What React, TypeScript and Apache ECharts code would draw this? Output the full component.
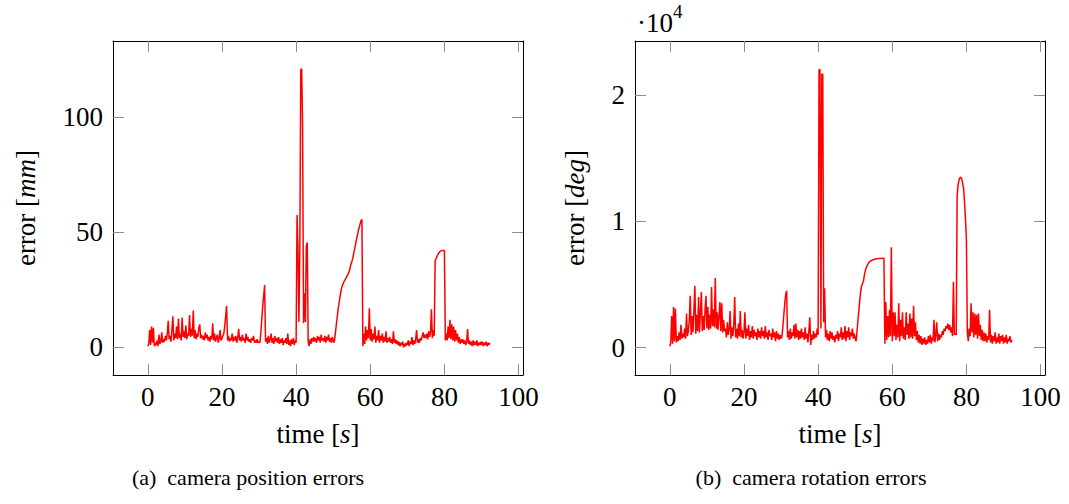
import React, { useEffect, useRef } from "react";
import * as echarts from "echarts";

// Sampling period of the recorded error signals (seconds)
const SAMPLE_PERIOD = 0.25;

const timeTicks = [0, 20, 40, 60, 80, 100];
const positionTicks = [0, 50, 100];
const rotationTicks = [0, 10000, 20000];

// camera position error [mm], one value every SAMPLE_PERIOD seconds from t = 0
const positionErrorMm = [
  // 0 - 5 s
  0.5, 1.5, 7.5, 1, 9, 2, 8.5, 0.5, 2, 1, 3, 0.5, 5.5, 1.5, 2.5, 6.5, 2, 3.5, 2.5, 5,
  // 5 - 10 s
  3, 6, 11.5, 3.5, 5, 2.5, 8, 13.5, 3, 6, 4, 9, 3.5, 12.5, 4, 6, 3, 13, 4.5, 7,
  // 10 - 15 s
  4, 9.5, 3.5, 6, 5, 14, 4.5, 8, 5, 16, 4, 7.5, 3.5, 6, 4.5, 8.5, 10, 4, 5.5, 3.5,
  // 15 - 20 s
  5, 3, 6.5, 4, 5.5, 3, 4.5, 2.5, 5, 3.5, 10.5, 3, 6, 2.5, 4, 5.5, 2, 4, 7.5, 3,
  // 20 - 25 s
  4, 5, 6, 9.5, 13.5, 18, 3, 5, 2.5, 4, 3, 6, 2.5, 4.5, 3, 5, 2, 4, 8, 3,
  // 25 - 30 s
  4.5, 2.5, 5.5, 3, 4, 2, 6, 3, 4.5, 2.5, 3.5, 2, 4, 3, 5, 2, 3, 2, 3.5, 2,
  // 30 - 35 s
  2.5, 2, 7, 12.5, 18, 22.5, 27, 2.5, 4, 1.5, 5, 2, 3.5, 6, 2, 4, 1.5, 5, 2.5, 4,
  // 35 - 40 s
  2, 4.5, 1.5, 3.5, 2, 4, 1, 3, 2, 4, 1.5, 6, 1, 3, 0.5, 3.5, 1.5, 4, 1, 3,
  // 40 - 45 s
  2, 57.5, 42.5, 11, 43, 120.5, 121, 94.5, 10.5, 23.5, 11, 44, 45.5, 2.5, 0.5, 3.5, 1.5, 4, 2.5, 4.5,
  // 45 - 50 s
  2.5, 4, 2, 5, 3, 4.5, 2, 5.5, 3, 4, 2.5, 5, 2, 4.5, 3, 5.5, 2.5, 4, 2, 4.5,
  // 50 - 55 s
  3, 2, 5, 8.5, 12, 15.5, 18.5, 21, 23.5, 25.5, 27, 28, 28.8, 29.5, 30.2, 31, 31.8, 32.8, 34, 36,
  // 55 - 60 s
  37, 38.5, 40.5, 42.5, 44.5, 46.5, 48.5, 50.5, 52, 53.5, 55, 55.5, 0.5, 6, 1.5, 9, 3, 7.5, 4, 17,
  // 60 - 65 s
  3, 8, 2.5, 6, 3.5, 9, 2, 5, 3, 7.5, 2, 5, 3, 6, 2, 4.5, 2.5, 7, 2, 4,
  // 65 - 70 s
  2.5, 4.5, 2, 3.5, 1.5, 7, 2, 3.5, 1.5, 3, 1, 2.5, 0.5, 2, 1, 2.5, 0, 1.5, 0.5, 2,
  // 70 - 75 s
  1, 3, 0.5, 2.5, 1.5, 4.5, 1, 3, 1.5, 3.5, 7.5, 2, 3.5, 2, 4, 3, 5, 6.5, 4, 5.5,
  // 75 - 80 s
  4, 6, 3.5, 7, 4.5, 6.5, 16.5, 4, 7.5, 5, 37.5, 38.5, 39.5, 40.3, 41, 41.5, 41.8, 42, 42, 42,
  // 80 - 85 s
  42, 3, 6, 3, 9, 4, 12, 3.5, 10, 3, 9, 2.5, 7.5, 3, 6, 2, 4.5, 1.5, 3.5, 2,
  // 85 - 90 s
  3.5, 1.5, 3, 1, 2.5, 8, 1.5, 3, 1, 2.5, 0.5, 3, 1, 2.5, 1, 3, 0.5, 2, 1, 2.5,
  // 90 - 92.25 s
  1, 2.5, 0.5, 2, 1, 2.5, 0.5, 2, 1, 2,
];

// camera rotation error [deg], one value every SAMPLE_PERIOD seconds from t = 0
const rotationErrorDeg = [
  // 0 - 5 s
  100, 400, 2500, 300, 3200, 500, 3100, 400, 900, 500, 1200, 600, 1800, 700, 1100, 800, 1500, 700, 2700, 900,
  // 5 - 10 s
  1300, 2200, 4100, 1000, 2500, 1200, 3000, 4900, 1100, 2600, 1300, 4000, 1200, 2800, 4400, 1300, 2500, 1400, 3000, 4100,
  // 10 - 15 s
  1500, 3200, 1400, 2600, 1500, 4800, 1700, 3000, 1600, 5500, 1500, 2800, 1400, 2500, 3600, 1300, 3500, 1200, 2200, 1300,
  // 15 - 20 s
  1500, 800, 2000, 1000, 1400, 2900, 700, 1600, 900, 1800, 4000, 800, 1500, 700, 1900, 900, 2900, 800, 1400, 700,
  // 20 - 25 s
  1200, 2800, 700, 1500, 900, 1800, 600, 1300, 800, 1700, 700, 1400, 900, 1200, 600, 1500, 800, 1300, 700, 1600,
  // 25 - 30 s
  900, 1300, 700, 1700, 800, 1200, 600, 1400, 900, 1100, 600, 1500, 800, 1200, 500, 1300, 700, 1100, 600, 1000,
  // 30 - 35 s
  700, 900, 1700, 2600, 3500, 4200, 4500, 800, 1300, 600, 1500, 700, 1200, 900, 1800, 700, 1900, 800, 1400, 600,
  // 35 - 40 s
  1300, 700, 1500, 800, 1200, 600, 1600, 700, 1100, 400, 1300, 2400, 200, 1000, 600, 1300, 700, 1100, 800, 1500,
  // 40 - 45 s
  1000, 22000, 22050, 1500, 21700, 21650, 2000, 4700, 800, 1400, 600, 1100, 500, 1300, 700, 1200, 600, 900, 400, 1000,
  // 45 - 50 s
  700, 1300, 500, 1100, 800, 1600, 600, 1200, 700, 1700, 500, 1300, 800, 1600, 600, 1200, 900, 1500, 700, 1100,
  // 50 - 55 s
  700, 500, 1300, 2200, 3000, 3800, 4500, 4900, 5100, 5300, 5800, 6100, 6350, 6500, 6650, 6750, 6830, 6880, 6900, 6950,
  // 55 - 60 s
  6980, 7000, 7020, 7030, 7040, 7050, 7050, 7060, 7060, 7070, 7070, 7070, 300, 3600, 600, 2500, 800, 3000, 900, 7950,
  // 60 - 65 s
  500, 2800, 900, 2800, 600, 1800, 800, 3500, 500, 2200, 900, 2800, 700, 1600, 600, 2800, 1000, 1900, 700, 2700,
  // 65 - 70 s
  800, 2300, 700, 3300, 900, 2000, 600, 1300, 400, 1000, 300, 900, 200, 700, 300, 800, 200, 600, 300, 900,
  // 70 - 75 s
  400, 1000, 300, 800, 500, 2200, 400, 1000, 2000, 500, 1100, 600, 1000, 800, 1300, 1000, 1500, 1300, 1700, 1500,
  // 75 - 80 s
  1900, 1400, 1800, 1200, 1600, 900, 5200, 1000, 1100, 1000, 12000, 12900, 13250, 13450, 13500, 13350, 13000, 12600, 11500, 10200,
  // 80 - 85 s
  8500, 1200, 500, 1500, 900, 3500, 1200, 2800, 800, 2700, 1000, 2600, 700, 2700, 900, 1800, 600, 1400, 500, 1200,
  // 85 - 90 s
  500, 1100, 400, 900, 600, 3000, 400, 1000, 300, 900, 500, 1200, 300, 800, 400, 1100, 300, 900, 500, 1000,
  // 90 - 92.25 s
  300, 800, 400, 1000, 300, 700, 500, 900, 400, 600,
];

const captions = ["(a)  camera position errors", "(b)  camera rotation errors"];

const SERIF = "Liberation Serif";
const TICK_FONT = 27;

function xAxes(gridIndex: number) {
  const common = {
    type: "value" as const,
    gridIndex,
    min: -9.4,
    max: 101.2,
    splitLine: { show: false },
    axisLine: { show: true, onZero: false, lineStyle: { color: "#000", width: 1 } },
    axisTick: {
      show: true,
      inside: true,
      length: 11,
      customValues: timeTicks,
      lineStyle: { color: "#8c8c8c", width: 1 },
    },
  };
  return [
    {
      ...common,
      position: "bottom",
      axisLabel: {
        show: true,
        customValues: timeTicks,
        margin: 8,
        color: "#000",
        fontFamily: SERIF,
        fontSize: TICK_FONT,
      },
      name: "{n|time [}{i|s}{n|]}",
      nameLocation: "middle",
      nameGap: 45,
      nameTextStyle: {
        color: "#000",
        fontFamily: SERIF,
        fontSize: TICK_FONT,
        rich: {
          n: { fontFamily: SERIF, fontSize: TICK_FONT, color: "#000" },
          i: { fontFamily: SERIF, fontSize: TICK_FONT, fontStyle: "italic", color: "#000" },
        },
      },
    },
    { ...common, position: "top", axisLabel: { show: false } },
  ];
}

function yAxes(
  gridIndex: number,
  min: number,
  max: number,
  ticks: number[],
  unit: string,
  nameGap: number,
  fmt: (v: number) => string
) {
  const common = {
    type: "value" as const,
    gridIndex,
    min,
    max,
    splitLine: { show: false },
    axisLine: { show: true, onZero: false, lineStyle: { color: "#000", width: 1 } },
    axisTick: {
      show: true,
      inside: true,
      length: 11,
      customValues: ticks,
      lineStyle: { color: "#8c8c8c", width: 1 },
    },
  };
  return [
    {
      ...common,
      position: "left",
      axisLabel: {
        show: true,
        customValues: ticks,
        margin: 10,
        color: "#000",
        fontFamily: SERIF,
        fontSize: TICK_FONT,
        formatter: fmt,
      },
      name: `{n|error [}{i|${unit}}{n|]}`,
      nameLocation: "middle",
      nameGap,
      nameTextStyle: {
        color: "#000",
        fontFamily: SERIF,
        fontSize: TICK_FONT,
        rich: {
          n: { fontFamily: SERIF, fontSize: TICK_FONT, color: "#000" },
          i: { fontFamily: SERIF, fontSize: TICK_FONT, fontStyle: "italic", color: "#000" },
        },
      },
    },
    { ...common, position: "right", axisLabel: { show: false } },
  ];
}

export default function App() {
  const ref = useRef<HTMLDivElement>(null);

  useEffect(() => {
    if (!ref.current) return;
    const chart = echarts.init(ref.current, undefined, { renderer: "svg" });

    const posData = positionErrorMm.map((v, i) => [i * SAMPLE_PERIOD, v]);
    const rotData = rotationErrorDeg.map((v, i) => [i * SAMPLE_PERIOD, v]);

    chart.setOption({
      animation: false,
      backgroundColor: "#fff",
      grid: [
        { left: 113, top: 41, width: 410, height: 334, containLabel: false },
        { left: 635, top: 41, width: 410, height: 334, containLabel: false },
      ],
      xAxis: [...xAxes(0), ...xAxes(1)],
      yAxis: [
        ...yAxes(0, -12, 133, positionTicks, "mm", 74, (v: number) => String(v)),
        ...yAxes(1, -2180, 24300, rotationTicks, "deg", 47, (v: number) => String(v / 10000)),
      ],
      series: [
        {
          type: "line",
          xAxisIndex: 0,
          yAxisIndex: 0,
          data: posData,
          showSymbol: false,
          symbol: "none",
          silent: true,
          lineStyle: { color: "#ff0000", width: 1.5 },
        },
        {
          type: "line",
          xAxisIndex: 2,
          yAxisIndex: 2,
          data: rotData,
          showSymbol: false,
          symbol: "none",
          silent: true,
          lineStyle: { color: "#ff0000", width: 1.5 },
        },
      ],
      graphic: [
        {
          type: "text",
          left: 637,
          top: 9,
          style: { text: "·10", fontFamily: SERIF, fontSize: TICK_FONT, fill: "#000" },
        },
        {
          type: "text",
          left: 673,
          top: 2,
          style: { text: "4", fontFamily: SERIF, fontSize: 19, fill: "#000" },
        },
        {
          type: "text",
          x: 248,
          y: 477,
          style: {
            text: captions[0],
            fontFamily: SERIF,
            fontSize: 22,
            fill: "#000",
            align: "center",
            verticalAlign: "middle",
          },
        },
        {
          type: "text",
          x: 811,
          y: 477,
          style: {
            text: captions[1],
            fontFamily: SERIF,
            fontSize: 22,
            fill: "#000",
            align: "center",
            verticalAlign: "middle",
          },
        },
      ],
    });

    return () => chart.dispose();
  }, []);

  return (
    <div
      ref={ref}
      style={{ position: "absolute", left: 0, top: 0, width: 1069, height: 504 }}
    />
  );
}
